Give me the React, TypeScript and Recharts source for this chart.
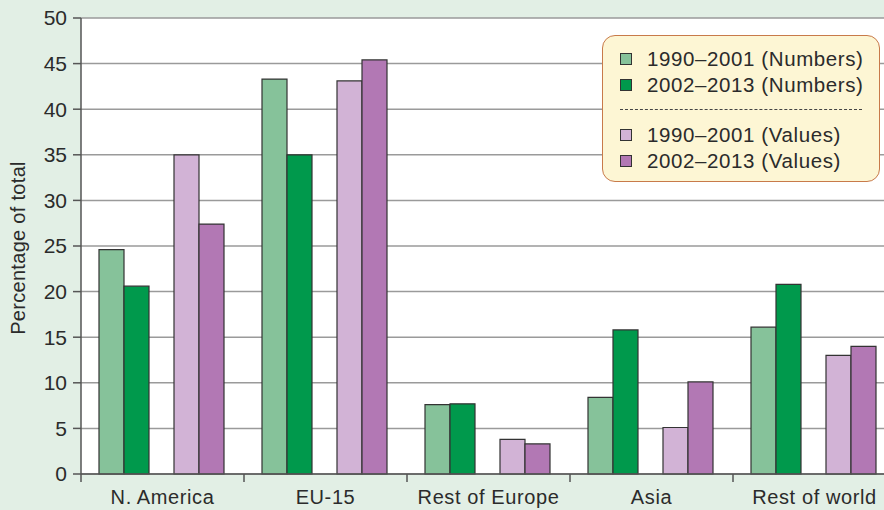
import { BarChart, Bar, XAxis, YAxis, CartesianGrid } from 'recharts';

const regions = ['N. America', 'EU-15', 'Rest of Europe', 'Asia', 'Rest of world'];
const numbers9001 = [24.6, 43.3, 7.6, 8.4, 16.1];
const numbers0213 = [20.6, 35.0, 7.7, 15.8, 20.8];
const values9001 = [35.0, 43.1, 3.8, 5.1, 13.0];
const values0213 = [27.4, 45.4, 3.3, 10.1, 14.0];
const yTicks = [0, 5, 10, 15, 20, 25, 30, 35, 40, 45, 50];

const series = [
  { key: 'n1', name: '1990–2001 (Numbers)', color: '#86c29a' },
  { key: 'n2', name: '2002–2013 (Numbers)', color: '#00994c' },
  { key: 'v1', name: '1990–2001 (Values)', color: '#d2b3d6' },
  { key: 'v2', name: '2002–2013 (Values)', color: '#b278b4' },
];

const data = regions.map((r, i) => ({
  region: r,
  n1: numbers9001[i],
  n2: numbers0213[i],
  gap: null,
  v1: values9001[i],
  v2: values0213[i],
}));

const CHART_W = 896;
const CHART_H = 510;
const Y_AXIS_W = 81;
const BAND = (CHART_W - Y_AXIS_W) / regions.length;
const FONT = '"Liberation Sans", Arial, Helvetica, sans-serif';
const TEXT = '#2b2b2b';
const AXIS = '#555';

function RegionTick(props: any) {
  const { x, y, payload } = props;
  const left = x - BAND / 2;
  return (
    <g>
      <line x1={left} y1={y} x2={left} y2={y + 8} stroke={AXIS} strokeWidth={1.5} />
      <text
        x={x}
        y={y + 30}
        textAnchor="middle"
        fill={TEXT}
        fontSize={20}
        letterSpacing={0.6}
        fontFamily={FONT}
      >
        {payload.value}
      </text>
    </g>
  );
}

function YLabel() {
  return (
    <text
      x={25}
      y={248}
      transform="rotate(-90 25 248)"
      textAnchor="middle"
      fill={TEXT}
      fontSize={20}
      letterSpacing={0.3}
      fontFamily={FONT}
    >
      Percentage of total
    </text>
  );
}

function LegendBox() {
  const row = (s: typeof series[number]) => (
    <div key={s.key} style={{ display: 'flex', alignItems: 'center', height: 26 }}>
      <span
        style={{
          width: 10,
          height: 10,
          background: s.color,
          border: '1px solid #333',
          marginRight: 15,
          display: 'inline-block',
        }}
      />
      <span>{s.name}</span>
    </div>
  );
  return (
    <div
      style={{
        position: 'absolute',
        left: 602,
        top: 35,
        width: 278,
        height: 147,
        boxSizing: 'border-box',
        background: '#fdf6d4',
        border: '1.5px solid #c87a4a',
        borderRadius: 13,
        padding: '10px 0 0 17px',
        fontFamily: FONT,
        fontSize: 20.5,
        letterSpacing: 0.6,
        color: TEXT,
        lineHeight: 1,
      }}
    >
      {row(series[0])}
      {row(series[1])}
      <div style={{ borderTop: '1px dashed #444', width: 242, margin: '11px 0 12px 0' }} />
      {row(series[2])}
      {row(series[3])}
    </div>
  );
}

export default function App() {
  return (
    <div
      style={{
        position: 'fixed',
        left: 0,
        top: 0,
        width: 884,
        height: 510,
        overflow: 'hidden',
        background: '#e2efe5',
      }}
    >
      <BarChart
        width={CHART_W}
        height={CHART_H}
        data={data}
        margin={{ top: 18, right: 0, bottom: 0, left: 0 }}
        barCategoryGap={18}
        barGap={0}
      >
        <CartesianGrid vertical={false} stroke="#9a9a9a" strokeWidth={1.5} fill="#fff" fillOpacity={1} />
        <XAxis
          dataKey="region"
          height={36}
          tickLine={false}
          tickSize={0}
          tickMargin={0}
          axisLine={{ stroke: AXIS, strokeWidth: 1.5 }}
          tick={<RegionTick />}
          interval={0}
        />
        <YAxis
          width={Y_AXIS_W}
          domain={[0, 50]}
          ticks={yTicks}
          interval={0}
          tickSize={8}
          tickMargin={6}
          tickLine={{ stroke: AXIS, strokeWidth: 1.5 }}
          axisLine={{ stroke: AXIS, strokeWidth: 1.5 }}
          tick={{ fill: TEXT, fontSize: 21, fontFamily: FONT }}
          label={<YLabel />}
        />
        <Bar dataKey="n1" fill={series[0].color} stroke="#333" strokeWidth={1.2} isAnimationActive={false} />
        <Bar dataKey="n2" fill={series[1].color} stroke="#333" strokeWidth={1.2} isAnimationActive={false} />
        <Bar dataKey="gap" fill="none" isAnimationActive={false} />
        <Bar dataKey="v1" fill={series[2].color} stroke="#333" strokeWidth={1.2} isAnimationActive={false} />
        <Bar dataKey="v2" fill={series[3].color} stroke="#333" strokeWidth={1.2} isAnimationActive={false} />
      </BarChart>
      <LegendBox />
    </div>
  );
}
